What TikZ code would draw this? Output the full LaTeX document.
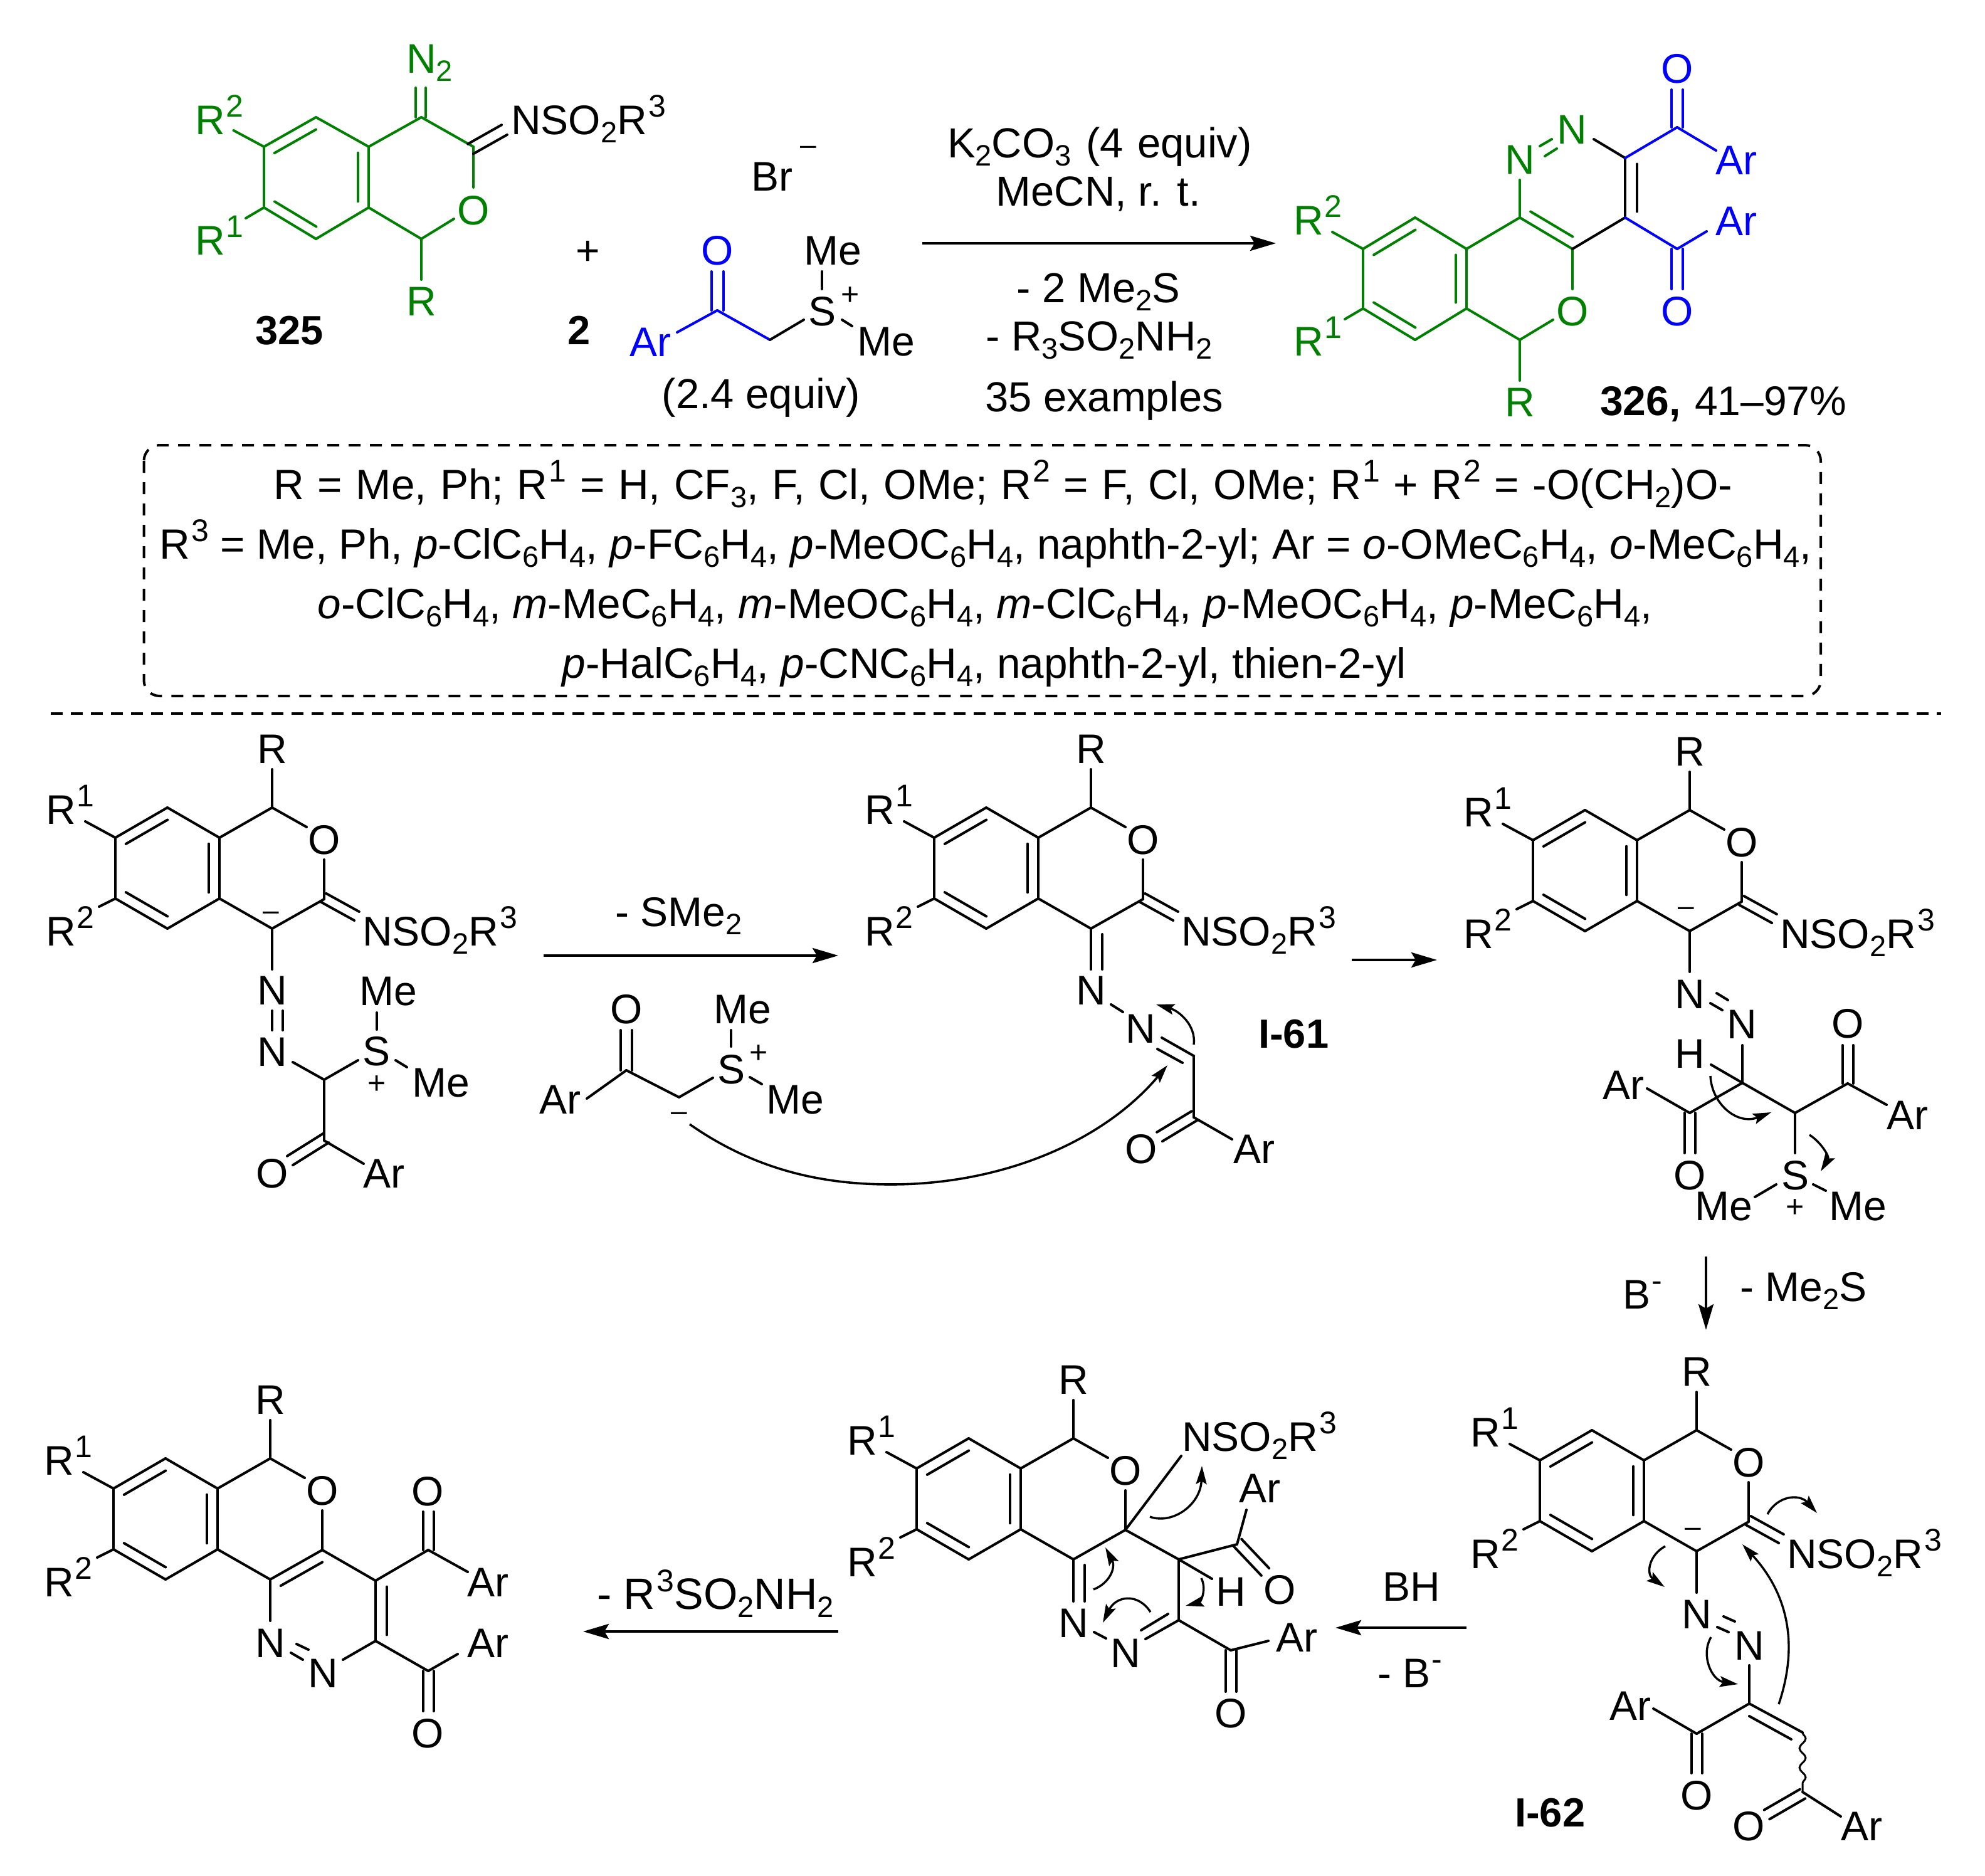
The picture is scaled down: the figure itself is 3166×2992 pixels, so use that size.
\documentclass[tikz,border=0pt]{standalone}
\usepackage{fontspec}
\setmainfont{Liberation Sans}
\usetikzlibrary{arrows.meta,calc,decorations.pathmorphing}
\definecolor{chemgreen}{RGB}{0,128,0}
\definecolor{chemblue}{RGB}{0,0,255}
\newcommand\Sb[1]{\raisebox{-13pt}{\fontsize{47}{47}\selectfont #1}}
\newcommand\Sp[1]{\kern2pt\raisebox{28pt}{\fontsize{50}{50}\selectfont #1}}
\newcommand\Lb[4][lc]{\node[#1] (#2) at (#3) {#4};}
\newcommand\Pt[2]{\coordinate (#1) at (#2);}
\newcommand\Bd[2]{\draw[bond] (#1) -- (#2);}
\newcommand\Db[3]{\draw[bond] ($(#1)!#3!90:(#2)$) -- ($(#2)!#3!-90:(#1)$);\draw[bond] ($(#1)!#3!-90:(#2)$) -- ($(#2)!#3!90:(#1)$);}
\newcommand\In[4]{\draw[bond] ($(#1)!#4!(#2)!#3!90:(#2)$) -- ($(#2)!#4!(#1)!#3!-90:(#1)$);}
\newcommand\Core[3]{\begin{scope}[shift={(#2,#3)}]
\Pt{#1a}{267,1288}\Pt{#1b}{184,1336}\Pt{#1c}{184,1433}\Pt{#1d}{267,1481}\Pt{#1e}{350,1433}\Pt{#1f}{350,1336}
\Pt{#1i}{434,1288}\Pt{#1h}{517,1434}\Pt{#1g}{434,1481}\Pt{#1Oa}{489,1319}\Pt{#1Ob}{517,1371}\Pt{#1Rb}{434,1227}
\Pt{#1ra}{136,1310}\Pt{#1rb}{158,1446}
\Bd{#1a}{#1b}\Bd{#1b}{#1c}\Bd{#1c}{#1d}\Bd{#1d}{#1e}\Bd{#1e}{#1f}\Bd{#1f}{#1a}
\In{#1a}{#1b}{17pt}{.1}\In{#1c}{#1d}{17pt}{.1}\In{#1e}{#1f}{17pt}{.1}
\Bd{#1f}{#1i}\Bd{#1i}{#1Oa}\Bd{#1Ob}{#1h}\Bd{#1h}{#1g}\Bd{#1g}{#1e}\Bd{#1i}{#1Rb}\Bd{#1b}{#1ra}\Bd{#1c}{#1rb}
\Lb{#1O}{517,1362}{O}\Lb{#1R}{434,1217}{R}\Lb[lb]{#1Ra}{73,1314}{R\Sp{1}}\Lb[lb]{#1Rc}{73,1508}{R\Sp{2}}
\end{scope}}
\newcommand\Imine[3]{\begin{scope}[shift={(#2,#3)}]
\Pt{#1ia}{516.5,1432}\Pt{#1ib}{569,1461}\Db{#1ia}{#1ib}{8pt}
\Lb[lb]{#1Ns}{578,1508}{NSO\Sb{2}R\Sp{3}}
\end{scope}}
\newcommand\Minus[3]{\begin{scope}[shift={(#2,#3)}]\Lb[chg]{#1mi}{432,1467}{–}\end{scope}}
\tikzset{
 every node/.style={inner sep=0pt,font=\fontsize{66}{72}\selectfont},
 lc/.style={anchor=base},
 lb/.style={anchor=base west},
 chg/.style={anchor=base,font=\fontsize{46}{46}\selectfont},
 pls/.style={anchor=base,font=\fontsize{50}{50}\selectfont},
 bd/.style={anchor=base west,font=\fontsize{65}{72}\selectfont\bfseries},
 big/.style={anchor=base,font=\fontsize{67}{72}\selectfont},
 boxt/.style={anchor=base,font=\fontsize{67.5}{72}\selectfont},
 wide/.style={anchor=base west,font=\fontsize{70}{72}\selectfont},
 bond/.style={line width=4pt,line cap=round},
 arr/.style={line width=4.5pt,-{Stealth[length=41pt,width=24pt,inset=7pt]}},
 curv/.style={line width=3.4pt,-{Stealth[length=29pt,width=17pt,inset=5pt]}},
 boxd/.style={line width=4pt,dash pattern=on 19pt off 15pt},
}
\begin{document}
\begin{tikzpicture}[x=1pt,y=-1pt]
\useasboundingbox (0,0) rectangle (3166,2992);
% ---------- 325
\begin{scope}[color=chemgreen]
\Pt{Aa}{504,187}\Pt{Ab}{421,234}\Pt{Ac}{421,331}\Pt{Ad}{504,381}\Pt{Ae}{588,331}\Pt{Af}{588,234}
\Pt{Ag}{672,187}\Pt{Ah}{755,234}\Pt{Ai}{672,381}\Pt{AOa}{755,299}\Pt{AOb}{724,349}\Pt{ARb}{672,446}
\Pt{Ara}{372.5,208}\Pt{Arb}{392,348}\Pt{ANa}{671,187}\Pt{ANb}{671,140}
\Bd{Aa}{Ab}\Bd{Ab}{Ac}\Bd{Ac}{Ad}\Bd{Ad}{Ae}\Bd{Ae}{Af}\Bd{Af}{Aa}
\In{Aa}{Ab}{17pt}{.1}\In{Ac}{Ad}{17pt}{.1}\In{Ae}{Af}{17pt}{.1}
\Bd{Af}{Ag}\Bd{Ag}{Ah}\Bd{Ah}{AOa}\Bd{AOb}{Ai}\Bd{Ai}{Ae}\Bd{Ai}{ARb}\Bd{Ab}{Ara}\Bd{Ac}{Arb}
\Db{ANa}{ANb}{8pt}
\Lb[lb]{AN}{648,117}{N\Sb{2}}
\Lb{AO}{755,358}{O}\Lb{AR}{672,503}{R}
\Lb[lb]{ARa}{311,214}{R\Sp{2}}\Lb[lb]{ARc}{311,406}{R\Sp{1}}
\end{scope}
\Pt{Aia}{750.5,237.5}\Pt{Aib}{804.5,207}\Db{Aia}{Aib}{9pt}
\Lb[lb]{ANs}{815,214}{NSO\Sb{2}R\Sp{3}}
\Lb[bd]{L325}{407,549}{325}
\Lb{plus1}{938,422}{+}
\Lb[bd]{L2}{905,549}{2}
\Lb[lb]{Br}{1198,304}{Br}\Lb[chg]{Brm}{1289,246}{–}
% ---------- ylide reagent
\Pt{Ba}{1144,495}\Pt{Bb}{1228,542}\Pt{Bc}{1080,530}\Pt{Bd}{1144,433}\Pt{Be}{1282,510}
\Pt{Bf}{1311,433}\Pt{Bg}{1311,461}\Pt{Bh}{1343,510}\Pt{Bi}{1359,520}
\begin{scope}[color=chemblue]
\Bd{Ba}{Bb}\Bd{Ba}{Bc}\Db{Ba}{Bd}{9.5pt}
\Lb{BO}{1144,422}{O}\Lb[lb]{BAr}{1004,568}{Ar}
\end{scope}
\Bd{Bb}{Be}\Bd{Bf}{Bg}\Bd{Bh}{Bi}
\Lb{BS}{1311,519}{S}\Lb[pls]{Bpl}{1356,486}{+}
\Lb[lb]{BMa}{1282,422}{Me}\Lb[lb]{BMb}{1367,567}{Me}
\Lb[big]{equiv}{1214,651}{(2.4 equiv)}
% ---------- conditions
\Pt{Ra}{1471,388}\Pt{Rb}{2035,388}\draw[arr] (Ra) -- (Rb);
\Lb[big]{c1}{1754,251}{K\Sb{2}CO\Sb{3}\kern5pt{} (4\kern4pt{} equiv)}
\Lb[big]{c2}{1752,328}{MeCN, r. t.}
\Lb[big]{c3}{1752,482}{- 2 Me\Sb{2}S}
\Lb[big]{c4}{1753,559}{- R\Sb{3}SO\Sb{2}NH\Sb{2}}
\Lb[big]{c5}{1761,656}{35 examples}
% ---------- 326
\Pt{Da}{2257,347}\Pt{Db}{2174,397}\Pt{Dc}{2174,492}\Pt{Dd}{2257,542}\Pt{De}{2339,492}\Pt{Df}{2339,397}
\Pt{Dg}{2424,347}\Pt{Dh}{2508,397}\Pt{Di}{2424,542}\Pt{Dj}{2592,252}\Pt{Dk}{2592,347}
\Pt{DOa}{2508,461}\Pt{DOb}{2477,510}\Pt{DRb}{2424,607}\Pt{Dra}{2125,370}\Pt{Drb}{2145,509}\Pt{DNa}{2424,287}
\Pt{DNb}{2542,222}
\begin{scope}[color=chemgreen]
\Bd{Da}{Db}\Bd{Db}{Dc}\Bd{Dc}{Dd}\Bd{Dd}{De}\Bd{De}{Df}\Bd{Df}{Da}
\In{Da}{Db}{17pt}{.1}\In{Dc}{Dd}{17pt}{.1}\In{De}{Df}{17pt}{.1}
\Bd{Df}{Dg}\Bd{Dg}{Dh}\In{Dg}{Dh}{17pt}{.1}\Bd{Dh}{DOa}\Bd{DOb}{Di}\Bd{Di}{De}\Bd{Di}{DRb}\Bd{Db}{Dra}\Bd{Dc}{Drb}\Bd{Dg}{DNa}
\Pt{Dz1}{2456,233}\Pt{Dz2}{2475,222}\Pt{Dz3}{2464,249}\Pt{Dz4}{2483,237}\Bd{Dz1}{Dz2}\Bd{Dz3}{Dz4}
\Lb{DNl}{2424,277}{N}\Lb{DNm}{2507,229}{N}\Lb{DO}{2508,519}{O}\Lb{DR}{2424,664}{R}
\Lb[lb]{DRa}{2063,374}{R\Sp{2}}\Lb[lb]{DRc}{2063,567}{R\Sp{1}}
\end{scope}
\Bd{DNb}{Dj}\Bd{Dj}{Dk}\In{Dj}{Dk}{19pt}{.1}\Bd{Dk}{Dh}
\Pt{Dm}{2675,203}\Pt{Dn}{2675,143}\Pt{Dp}{2737,240}\Pt{Dq}{2675,397}\Pt{Dr}{2675,461}\Pt{Ds}{2722,369}
\begin{scope}[color=chemblue]
\Bd{Dj}{Dm}\Db{Dm}{Dn}{9pt}\Bd{Dm}{Dp}\Bd{Dk}{Dq}\Db{Dq}{Dr}{9pt}\Bd{Dq}{Ds}
\Lb{DOc}{2675,132}{O}\Lb{DOd}{2675,519}{O}\Lb[lb]{DAa}{2736,278}{Ar}\Lb[lb]{DAb}{2736,375}{Ar}
\end{scope}
\Lb[lb]{D326}{2552,662}{\textbf{326,}\kern4pt{} 41–97\%}
% ---------- dashed box
\Pt{Xa}{229.5,710}\Pt{Xb}{2904,1110}
\draw[boxd,rounded corners=25pt] (Xa) rectangle (Xb);
\Lb[boxt]{t1}{1600,796}{\spaceskip=21.6pt R = Me, Ph; R\Sp{1} = H, CF\Sb{3}, F, Cl, OMe; R\Sp{2} = F, Cl, OMe; R\Sp{1} + R\Sp{2} = -O(CH\Sb{2})O-}
\Lb[boxt]{t2}{1572,891}{R\Sp{3} = Me, Ph, \textit{p}-ClC\Sb{6}H\Sb{4}, \textit{p}-FC\Sb{6}H\Sb{4}, \textit{p}-MeOC\Sb{6}H\Sb{4}, naphth-2-yl; Ar = \textit{o}-OMeC\Sb{6}H\Sb{4}, \textit{o}-MeC\Sb{6}H\Sb{4},}
\Lb[boxt]{t3}{1571,986}{\textit{o}-ClC\Sb{6}H\Sb{4}, \textit{m}-MeC\Sb{6}H\Sb{4}, \textit{m}-MeOC\Sb{6}H\Sb{4}, \textit{m}-ClC\Sb{6}H\Sb{4}, \textit{p}-MeOC\Sb{6}H\Sb{4}, \textit{p}-MeC\Sb{6}H\Sb{4},}
\Lb[boxt]{t4}{1570,1081}{\textit{p}-HalC\Sb{6}H\Sb{4}, \textit{p}-CNC\Sb{6}H\Sb{4}, naphth-2-yl, thien-2-yl}
\Pt{Ya}{81,1138}\Pt{Yb}{3096,1138}
\draw[line width=4pt,dash pattern=on 19pt off 13pt] (Ya) -- (Yb);
% ---------- mechanism 1
\Core{m}{0}{0}\Imine{m}{0}{0}\Minus{m}{0}{0}
\Pt{mgn}{434,1546}\Bd{mg}{mgn}
\Pt{mn1}{442.5,1612}\Pt{mn2}{442.5,1643}\Db{mn1}{mn2}{8.5pt}
\Lb{mNa}{434,1602}{N}\Lb{mNb}{434,1700}{N}
\Pt{mn3}{467,1694}\Pt{mC}{517,1722}\Pt{mS1}{571,1691}\Bd{mn3}{mC}\Bd{mC}{mS1}
\Lb{mS}{601,1699}{S}\Lb[pls]{mpl}{601,1744}{+}
\Pt{mt1}{601,1615}\Pt{mt2}{601,1642}\Bd{mt1}{mt2}
\Pt{mt3}{631,1691}\Pt{mt4}{649,1702}\Bd{mt3}{mt4}
\Lb[lb]{mMa}{573,1603}{Me}\Lb[lb]{mMb}{657,1749}{Me}
\Pt{mCO}{517,1819}\Bd{mC}{mCO}
\Pt{mo1}{520,1815}\Pt{mo2}{462.5,1851}\Db{mo1}{mo2}{8.5pt}
\Pt{mAr}{580,1856}\Bd{mCO}{mAr}
\Lb{mO2}{434,1894}{O}\Lb[lb]{mAr2}{579,1894}{Ar}
% arrow 2
\Pt{Sa}{867,1524}\Pt{Sb}{1337,1524}\draw[arr] (Sa) -- (Sb);
\Lb[lb]{SMe}{981,1477}{- SMe\Sb{2}}
% reagent
\Pt{Ea}{999,1707}\Pt{Eb}{1083,1750}\Pt{Ec}{936,1752}\Pt{Ed}{999,1643}\Pt{Ee}{1137,1719}
\Pt{Ef}{1166,1643}\Pt{Eg}{1166,1669}\Pt{Eh}{1196,1718}\Pt{Ei}{1215,1729}
\Bd{Ea}{Eb}\Bd{Ea}{Ec}\Db{Ea}{Ed}{9pt}\Bd{Eb}{Ee}\Bd{Ef}{Eg}\Bd{Eh}{Ei}
\Lb{EO}{999,1632}{O}\Lb[lb]{EAr}{860,1776}{Ar}\Lb{ES}{1166,1728}{S}\Lb[pls]{Epl}{1210,1695}{+}
\Lb[lb]{EMa}{1138,1632}{Me}\Lb[lb]{EMb}{1222,1776}{Me}\Lb[chg]{Emi}{1083,1787}{–}
\Pt{Ec1}{1100,1793}\Pt{Ec2}{1421,1889}\Pt{Ec3}{1862,1699}
\draw[line width=3.6pt] (Ec1) .. controls (1210,1870) and (1320,1889) .. (Ec2);
\draw[curv,line width=3.6pt] (Ec2) .. controls (1600,1889) and (1760,1820) .. (Ec3);
% ---------- I-61
\Core{n}{1306}{0}\Imine{n}{1306}{0}
\Pt{ng1}{1740,1546}\Bd{ng}{ng1}\Pt{ng2}{1758,1490}\Pt{ng3}{1758,1546}\Bd{ng2}{ng3}
\Lb{nNa}{1740,1602}{N}\Lb{nNb}{1819,1663}{N}
\Pt{nn1}{1772,1602}\Pt{nn2}{1791,1614}\Bd{nn1}{nn2}
\Pt{nn3}{1853,1655}\Pt{nC}{1904,1684}\Bd{nn3}{nC}\Pt{nn4}{1846,1673}\Pt{nn5}{1886,1695}\Bd{nn4}{nn5}
\Pt{nCO}{1904,1782}\Bd{nC}{nCO}
\Pt{no1}{1905,1779.5}\Pt{no2}{1849.5,1813}\Db{no1}{no2}{8.5pt}
\Pt{nAr}{1965,1817}\Bd{nCO}{nAr}
\Lb{nO2}{1820,1855}{O}\Lb[lb]{nAr2}{1967,1855}{Ar}
\Pt{nc1}{1904,1666}\Pt{nc2}{1844,1602}\draw[curv] (nc1) .. controls (1908,1635) and (1880,1612) .. (nc2);
\Lb[bd]{I61}{2007,1671}{I-61}
% arrow 3
\Pt{Ta}{2156,1531}\Pt{Tb}{2292,1531}\draw[arr] (Ta) -- (Tb);
% ---------- structure 3
\Core{p}{2261}{4}\Imine{p}{2261}{4}\Minus{p}{2257}{-7}
\Pt{pg1}{2695,1550}\Bd{pg}{pg1}
\Lb{pNa}{2695,1608}{N}\Lb{pNb}{2778,1656}{N}
\Pt{pn1}{2728,1600}\Pt{pn2}{2747,1611}\Pt{pn3}{2738,1584}\Pt{pn4}{2756,1595}\Bd{pn1}{pn2}\Bd{pn3}{pn4}
\Pt{pn5}{2779,1667}\Pt{pC}{2779,1727}\Bd{pn5}{pC}
\Lb{pH}{2695,1703}{H}\Pt{pn6}{2729,1698}\Bd{pn6}{pC}
\Pt{pD}{2863,1775}\Pt{pL}{2695,1775}\Pt{pU}{2947,1728}\Bd{pC}{pD}\Bd{pC}{pL}\Bd{pD}{pU}
\Pt{pl1}{2627,1736}\Bd{pL}{pl1}\Pt{pl2}{2695,1839}\Db{pL}{pl2}{8.5pt}
\Lb{pO1}{2695,1897}{O}\Lb[lb]{pAr1}{2556,1753}{Ar}
\Pt{pu1}{2947,1667}\Db{pU}{pu1}{8.5pt}\Pt{pu2}{3009,1762}\Bd{pU}{pu2}
\Lb{pO2}{2947,1655}{O}\Lb[lb]{pAr2}{3009,1801}{Ar}
\Pt{ps1}{2863,1839}\Bd{pD}{ps1}\Lb{pS}{2863,1897}{S}\Lb[pls]{ppl}{2863,1941}{+}
\Pt{ps2}{2799,1909}\Pt{ps3}{2833,1889}\Bd{ps2}{ps3}\Pt{ps4}{2892,1889}\Pt{ps5}{2912,1899}\Bd{ps4}{ps5}
\Lb[lb]{pMa}{2703,1946}{Me}\Lb[lb]{pMb}{2917,1946}{Me}
\Pt{pc1}{2728,1716}\Pt{pc2}{2825,1774}\draw[curv] (pc1) .. controls (2730,1760) and (2770,1795) .. (pc2);
\Pt{pc3}{2886,1810}\Pt{pc4}{2904,1868}\draw[curv] (pc3) .. controls (2905,1822) and (2918,1845) .. (pc4);
% down arrow
\Pt{Ua}{2721,2004}\Pt{Ub}{2721,2121}\draw[arr,line width=4pt] (Ua) -- (Ub);
\Lb[lb]{UB}{2588,2087}{B\Sp{-}}\Lb[lb]{UM}{2775,2075}{- Me\Sb{2}S}
% ---------- I-62
\Core{q}{2272}{993}\Imine{q}{2272}{993}\Minus{q}{2268}{983}
\Pt{qg1}{2706,2540}\Bd{qg}{qg1}
\Lb{qNa}{2706,2597}{N}\Lb{qNb}{2790,2647}{N}
\Pt{qn1}{2739,2595}\Pt{qn2}{2757,2603}\Pt{qn3}{2749,2578}\Pt{qn4}{2767,2586}\Bd{qn1}{qn2}\Bd{qn3}{qn4}
\Pt{qn5}{2790,2656}\Pt{qC}{2790,2717}\Bd{qn5}{qC}
\Pt{qL}{2706,2765}\Bd{qC}{qL}\Pt{ql1}{2637,2725}\Bd{qL}{ql1}\Pt{ql2}{2706,2828}\Db{qL}{ql2}{8.5pt}
\Lb{qO1}{2706,2886}{O}\Lb[lb]{qAr1}{2567,2743}{Ar}
\Pt{qD}{2875,2763}\Bd{qC}{qD}\Pt{qi1}{2790,2737}\Pt{qi2}{2857,2774}\Bd{qi1}{qi2}
\Pt{qE}{2875,2858}
\draw[line width=3pt,decorate,decoration={snake,segment length=31pt,amplitude=5pt}] (qD) -- (qE);
\Pt{qo1}{2875,2861}\Pt{qo2}{2818,2894}\Db{qo1}{qo2}{8.5pt}
\Pt{qa1}{2936,2897}\Bd{qE}{qa1}
\Lb{qO2}{2789,2935}{O}\Lb[lb]{qAr2}{2936,2935}{Ar}
\Lb[bd]{I62}{2416,2913}{I-62}
\Pt{qc1}{2819,2415}\Pt{qc2}{2898,2413}\draw[curv] (qc1) .. controls (2835,2385) and (2870,2382) .. (qc2);
\Pt{qc3}{2656,2466}\Pt{qc4}{2655,2531}\draw[curv] (qc3) .. controls (2630,2480) and (2625,2510) .. (qc4);
\Pt{qc5}{2729,2611}\Pt{qc6}{2772,2686}\draw[curv] (qc5) .. controls (2712,2640) and (2730,2680) .. (qc6);
\Pt{qc7}{2837,2718}\Pt{qc8}{2779,2463}\draw[curv] (qc7) .. controls (2870,2620) and (2850,2540) .. (qc8);
% BH arrow
\Pt{Va}{2339,2596}\Pt{Vb}{2130,2596}\draw[arr] (Va) -- (Vb);
\Lb{VH}{2251,2553}{BH}\Lb[lb]{VB}{2197,2691}{- B\Sp{-}}
% ---------- structure 5
\Core{r}{1278}{1006}
\Pt{rg1}{1712,2554}\Bd{rg}{rg1}\Pt{rg2}{1730,2496}\Pt{rg3}{1730,2554}\Bd{rg2}{rg3}
\Lb{rNa}{1712,2611}{N}\Lb{rNb}{1795,2659}{N}
\Pt{rn1}{1745,2603}\Pt{rn2}{1764,2613}\Bd{rn1}{rn2}
\Pt{rk}{1880,2487}\Pt{rj}{1880,2584}\Bd{rh}{rk}\Bd{rk}{rj}
\Pt{rn3}{1827,2614}\Bd{rn3}{rj}\Pt{rn4}{1820,2600}\Pt{rn5}{1863,2574}\Bd{rn4}{rn5}
\Pt{rCa}{1973,2463}\Bd{rk}{rCa}\Pt{ru1}{1988,2408}\Bd{rCa}{ru1}
\Pt{ru2}{1974,2460.5}\Pt{ru3}{2018,2507}\Db{ru2}{ru3}{8.5pt}
\Lb{rO1}{2041,2558}{O}\Lb[lb]{rAr1}{1976,2396}{Ar}
\Pt{rCb}{1963,2632}\Bd{rj}{rCb}\Pt{rl1}{2023,2617}\Bd{rCb}{rl1}\Pt{rl2}{1963,2698}\Db{rCb}{rl2}{8.5pt}
\Lb{rO2}{1963,2755}{O}\Lb[lb]{rAr2}{2035,2634}{Ar}
\Pt{rH1}{1933,2518}\Bd{rk}{rH1}\Lb{rH}{1963,2561}{H}
\Pt{rs1}{1884,2322}\Bd{rh}{rs1}\Lb[lb]{rNs}{1885,2314}{NSO\Sb{2}R\Sp{3}}
\Pt{rc1}{1834,2419}\Pt{rc2}{1917,2338}\draw[curv] (rc1) .. controls (1870,2432) and (1915,2400) .. (rc2);
\Pt{rc3}{1744,2535}\Pt{rc4}{1763,2468}\draw[curv] (rc3) .. controls (1770,2525) and (1780,2500) .. (rc4);
\Pt{rc5}{1916,2517}\Pt{rc6}{1891,2561}\draw[curv] (rc5) .. controls (1925,2535) and (1915,2555) .. (rc6);
\Pt{rc7}{1835,2571}\Pt{rc8}{1759,2588}\draw[curv] (rc7) .. controls (1815,2540) and (1780,2545) .. (rc8);
% last arrow
\Pt{Wa}{1337,2602}\Pt{Wb}{930,2602}\draw[arr] (Wa) -- (Wb);
\Lb[wide]{WT}{952,2566}{- R\Sp{3}SO\Sb{2}NH\Sb{2}}
% ---------- final
\Core{f}{-3}{1038}
\In{fh}{fg}{17pt}{.1}
\Pt{fN1}{431,2585}\Bd{fg}{fN1}\Lb{fNa}{431,2643}{N}\Lb{fNb}{515,2691}{N}
\Pt{fz1}{464,2636}\Pt{fz2}{483,2647}\Pt{fz3}{473,2622}\Pt{fz4}{492,2631}\Bd{fz1}{fz2}\Bd{fz3}{fz4}
\Pt{fk}{599,2521}\Pt{fj}{599,2617}\Bd{fh}{fk}\Bd{fk}{fj}\In{fk}{fj}{18pt}{.1}
\Pt{fz5}{547,2647}\Bd{fz5}{fj}
\Pt{fU}{683,2472}\Bd{fk}{fU}\Pt{fu1}{683,2411}\Db{fU}{fu1}{8.5pt}\Pt{fu2}{746,2507}\Bd{fU}{fu2}
\Lb{fO1}{682,2401}{O}\Lb[lb]{fAr1}{745,2546}{Ar}
\Pt{fL}{683,2665}\Bd{fj}{fL}\Pt{fl1}{683,2729}\Db{fL}{fl1}{8.5pt}\Pt{fl2}{730,2638}\Bd{fL}{fl2}
\Lb{fO2}{682,2787}{O}\Lb[lb]{fAr2}{745,2643}{Ar}
\end{tikzpicture}
\end{document}
